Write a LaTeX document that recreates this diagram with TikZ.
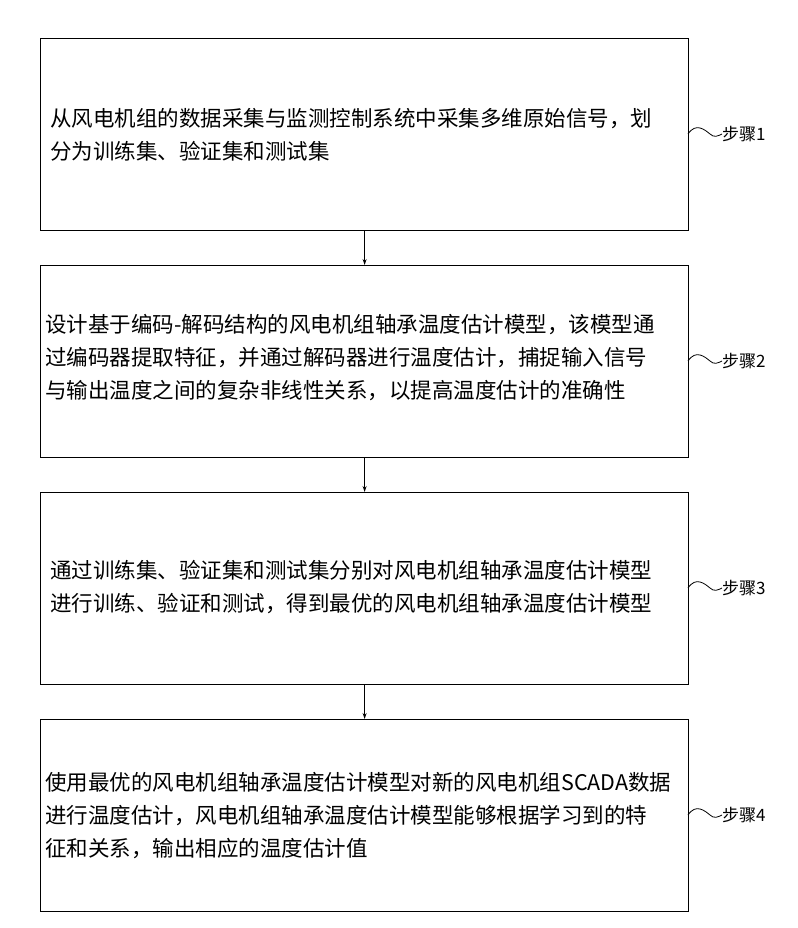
\documentclass[tikz,border=0pt]{standalone}
\usepackage{fontspec}
\newfontfamily\cjk{Noto Sans CJK SC}
\usetikzlibrary{arrows.meta}
\begin{document}
\begin{tikzpicture}[x=1pt,y=-1pt,
  stepbox/.style={draw,line width=1.2pt,minimum width=648pt,minimum height=192pt,anchor=north west,inner sep=0pt},
  txt/.style={anchor=west,align=left,font=\cjk\fontsize{21.5}{33}\selectfont,inner sep=0pt},
  lab/.style={anchor=west,font=\cjk\fontsize{17}{20}\selectfont,inner sep=0pt},
  conn/.style={line width=1pt,-{Stealth[length=6pt,width=4pt]}}]
\useasboundingbox (0,0) rectangle (797,928);
\node[stepbox] (b1) at (40,38) {};
\node[stepbox] (b2) at (40,265) {};
\node[stepbox] (b3) at (40,492) {};
\node[stepbox] (b4) at (40,719) {};
\node[txt] (t1) at (50,135) {从风电机组的数据采集与监测控制系统中采集多维原始信号，划\\分为训练集、验证集和测试集};
\node[txt] (t2) at (45,358) {设计基于编码-解码结构的风电机组轴承温度估计模型，该模型通\\过编码器提取特征，并通过解码器进行温度估计，捕捉输入信号\\与输出温度之间的复杂非线性关系，以提高温度估计的准确性};
\node[txt] (t3) at (50,587) {通过训练集、验证集和测试集分别对风电机组轴承温度估计模型\\进行训练、验证和测试，得到最优的风电机组轴承温度估计模型};
\node[txt] (t4) at (45,816) {使用最优的风电机组轴承温度估计模型对新的风电机组SCADA数据\\进行温度估计，风电机组轴承温度估计模型能够根据学习到的特\\征和关系，输出相应的温度估计值};
\foreach \y/\n in {134/1,361/2,588/3,815/4}{
  \coordinate (s\n) at (688,\y);
  \node[lab] (l\n) at (722,\y) {步骤\n};
  \draw[line width=0.8pt] (s\n) .. controls (696,\y-12) and (705,\y-4) .. (710,\y) .. controls (714,\y+4) and (718,\y+2) .. (l\n.west);
}
\draw[conn] (b1.south) -- (b2.north);
\draw[conn] (b2.south) -- (b3.north);
\draw[conn] (b3.south) -- (b4.north);
\end{tikzpicture}
\end{document}
